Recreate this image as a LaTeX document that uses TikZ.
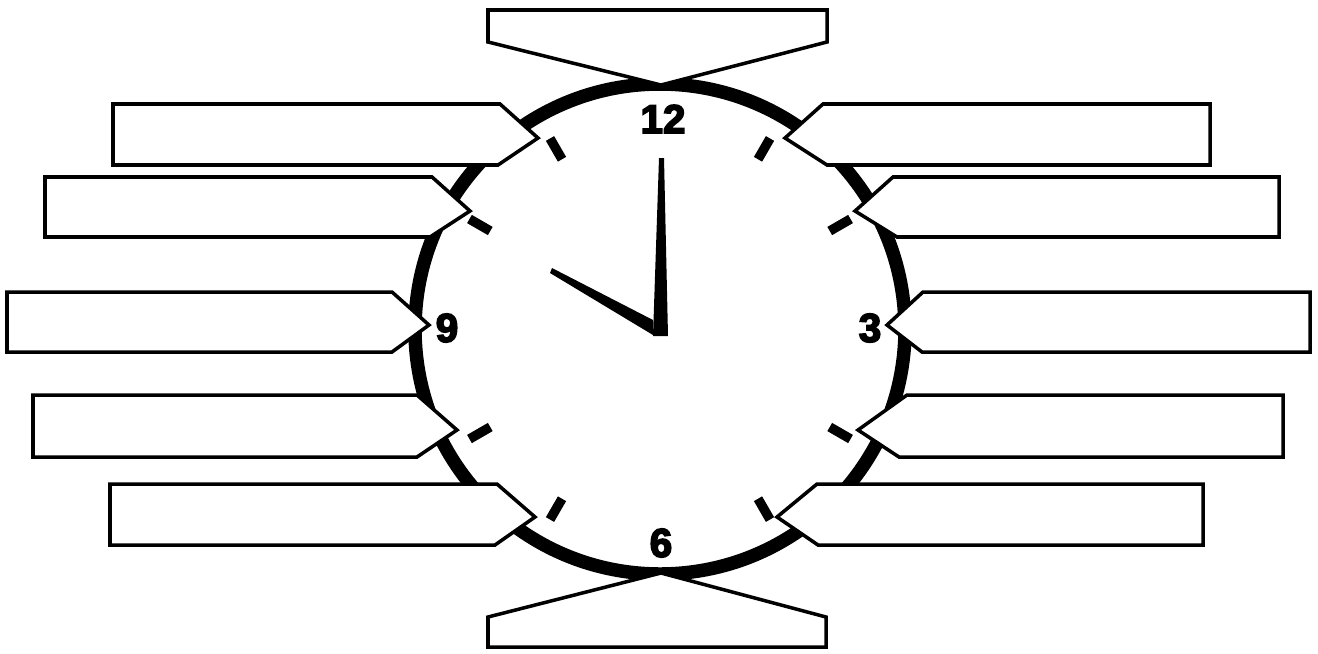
\documentclass[tikz,border=0pt]{standalone}
\usepackage{fontspec}
\newfontfamily\dialfont{Liberation Sans}[UprightFont={* Bold},FakeBold=4]
\begin{document}
\begin{tikzpicture}[x=0.02cm,y=-0.02cm,
  ring/.style={line width=0.27cm},
  tick/.style={line width=0.19cm},
  hand/.style={fill=black},
  label/.style={draw,fill=white,line width=2pt,line join=miter},
  digit/.style={font=\dialfont\fontsize{23}{23}\selectfont,inner sep=0pt}]

\useasboundingbox (0,0) rectangle (1318,653);

% Cadran
\draw[ring] (660,329) circle (245);

% Graduations
\begin{scope}[shift={(660,329)}]
\draw[tick] (-60:196) -- (-60:220);
\draw[tick] (-30:196) -- (-30:220);
\draw[tick] (30:196) -- (30:220);
\draw[tick] (60:196) -- (60:220);
\draw[tick] (120:196) -- (120:220);
\draw[tick] (150:196) -- (150:220);
\draw[tick] (210:196) -- (210:220);
\draw[tick] (240:196) -- (240:220);
\end{scope}

% Aiguilles
\fill[hand] (653,336) -- (668,336) -- (664,158) -- (659,158) -- cycle;
\fill[hand] (552,268) -- (653,320) -- (653,335) -- (550,273) -- cycle;

% Chiffres
\node[digit] (twelve) at (663,119) {12};
\node[digit] (three) at (870,328) {3};
\node[digit] (six) at (661,543) {6};
\node[digit] (nine) at (447,328) {9};

% Etiquettes haut et bas
\draw[label] (488,10) -- (827,10) -- (827,42) -- (661,85) -- (488,42) -- cycle;
\draw[label] (488,647) -- (826,647) -- (826,617) -- (661,573) -- (488,617) -- cycle;

% Etiquettes gauche
\draw[label] (113,104) -- (500,104) -- (538,138) -- (498,165) -- (113,165) -- cycle;
\draw[label] (45,177) -- (432,177) -- (470,211) -- (430,237) -- (45,237) -- cycle;
\draw[label] (7,292) -- (392,292) -- (429,325) -- (392,352) -- (7,352) -- cycle;
\draw[label] (33,395) -- (417,395) -- (457,430) -- (417,457) -- (33,457) -- cycle;
\draw[label] (110,484) -- (497,484) -- (535,517) -- (495,545) -- (110,545) -- cycle;

% Etiquettes droite
\draw[label] (1210,104) -- (823,104) -- (785,138) -- (827,165) -- (1210,165) -- cycle;
\draw[label] (1279,177) -- (893,177) -- (855,211) -- (897,237) -- (1279,237) -- cycle;
\draw[label] (1310,292) -- (923,292) -- (887,325) -- (922,352) -- (1310,352) -- cycle;
\draw[label] (1283,395) -- (907,395) -- (858,430) -- (899,457) -- (1283,457) -- cycle;
\draw[label] (1203,484) -- (817,484) -- (777,517) -- (818,545) -- (1203,545) -- cycle;

\end{tikzpicture}
\end{document}
